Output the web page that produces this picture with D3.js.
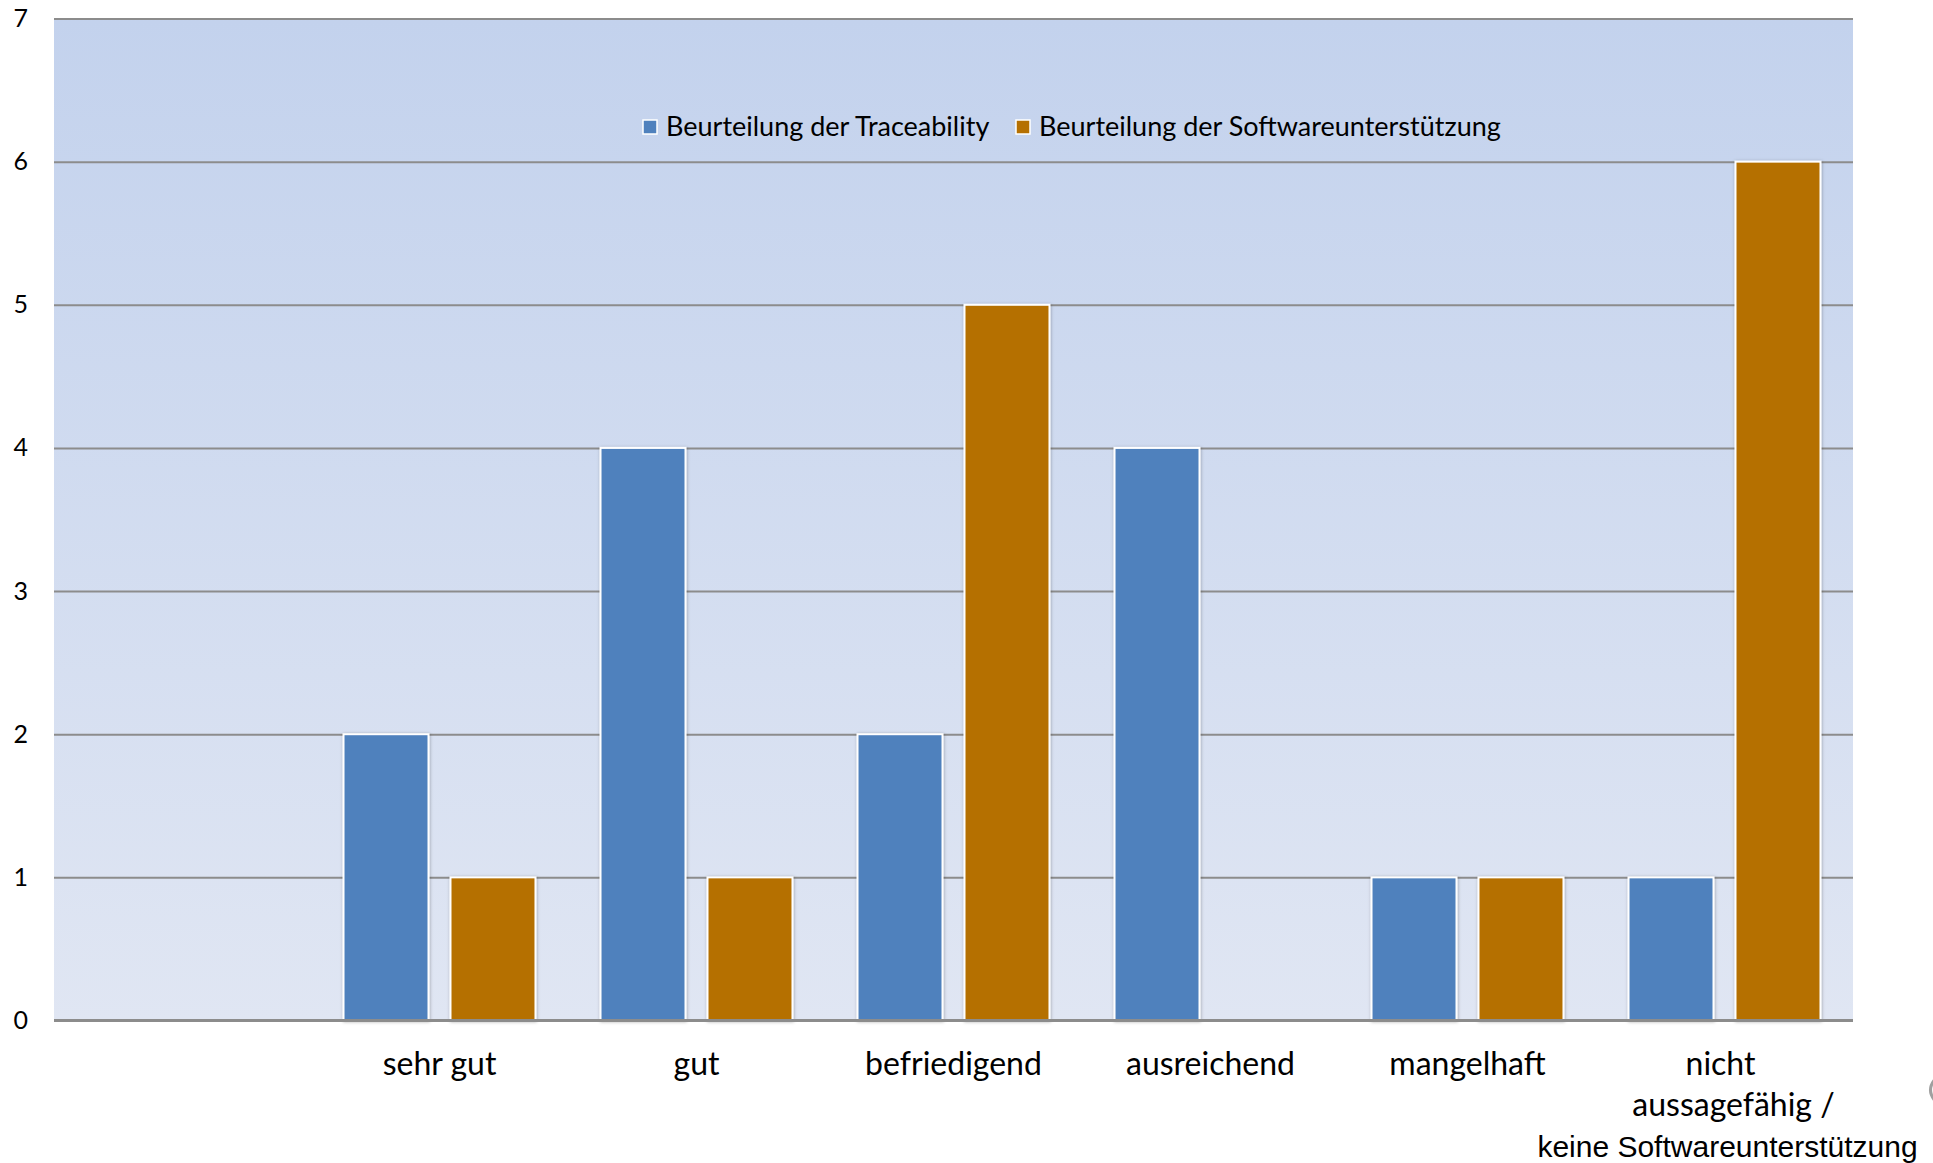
<!DOCTYPE html>
<html>
<head>
<meta charset="utf-8">
<script src="https://cdnjs.cloudflare.com/ajax/libs/d3/7.8.5/d3.min.js"></script>
<style>
	body { margin: 0; background: #ffffff; }
	#container { width: 1933px; height: 1163px; overflow: hidden; }
	.grid line { stroke: #8c8c8c; stroke-width: 2px; }
	.grid path { display: none; }
	.y.axis path, .y.axis line { display: none; }
	.y.axis text { font-family: Lato, "Open Sans", sans-serif; font-size: 25px; fill: #000; }
	.xlabel { font-family: Lato, "Open Sans", sans-serif; font-size: 32px; fill: #000; }
	.legend text { font-family: Lato, "Open Sans", sans-serif; font-size: 27px; fill: #000; }
</style>
</head>
<body>
<div id="container"></div>
<script>
// data
var categories = ["", "sehr gut", "gut", "befriedigend", "ausreichend", "mangelhaft", "nicht aussagefähig / keine Softwareunterstützung"];
var traceability = [0, 2, 4, 2, 4, 1, 1];
var software = [0, 1, 1, 5, 0, 1, 6];
var seriesNames = ["Beurteilung der Traceability", "Beurteilung der Softwareunterstützung"];
var yTicks = [0, 1, 2, 3, 4, 5, 6, 7];
// x tick labels, one entry per line
var xLabelLines = [[""], ["sehr gut"], ["gut"], ["befriedigend"], ["ausreichend"], ["mangelhaft"],
	["nicht", "aussagefähig  /", "keine Softwareunterstützung"]];

var colors = ["#4f81bd", "#b57001"];

const W = 1933, H = 1163;
var margin = {top: 18.5, right: 80, bottom: 142.5, left: 54};
var width = W - margin.left - margin.right;
var height = H - margin.top - margin.bottom;

var svg = d3.select("#container").append("svg")
	.attr("width", W)
	.attr("height", H);

var defs = svg.append("defs");

var grad = defs.append("linearGradient")
	.attr("id", "bg")
	.attr("x1", 0).attr("y1", 0)
	.attr("x2", 0).attr("y2", 1);
grad.append("stop").attr("offset", "0%").attr("stop-color", "#c3d2ed");
grad.append("stop").attr("offset", "100%").attr("stop-color", "#e0e6f3");

var shadow = defs.append("filter")
	.attr("id", "shadow")
	.attr("x", "-20%").attr("y", "-5%")
	.attr("width", "140%").attr("height", "110%");
shadow.append("feDropShadow")
	.attr("dx", 0.5).attr("dy", 0.5)
	.attr("stdDeviation", 1.5)
	.attr("flood-color", "#000")
	.attr("flood-opacity", 0.3);

var g = svg.append("g")
	.attr("transform", "translate(" + margin.left + "," + margin.top + ")");

// scales
var x = d3.scaleBand()
	.domain(categories)
	.range([0, width]);

var xSub = d3.scaleBand()
	.domain([0, 1])
	.range([0, x.bandwidth()])
	.paddingInner(0.2056)
	.paddingOuter(0.304);

var y = d3.scaleLinear()
	.domain([0, 7])
	.range([height, 0]);

// plot background
g.append("rect")
	.attr("width", width)
	.attr("height", height)
	.attr("fill", "url(#bg)");

// gridlines
g.append("g")
	.attr("class", "grid")
	.call(d3.axisLeft(y).tickValues(yTicks).tickSize(-width).tickFormat(""));

// y axis labels
g.append("g")
	.attr("class", "y axis")
	.call(d3.axisLeft(y).tickValues(yTicks).tickSize(0).tickPadding(26).tickFormat(d3.format("d")));

// bars
var series = [traceability, software];
series.forEach(function(vals, s) {
	g.append("g")
		.selectAll("rect")
		.data(categories.map((c, i) => ({cat: c, v: vals[i]})).filter(d => d.v > 0))
		.enter().append("rect")
		.attr("x", d => x(d.cat) + xSub(s))
		.attr("y", d => y(d.v))
		.attr("width", xSub.bandwidth())
		.attr("height", d => height - y(d.v))
		.attr("fill", colors[s])
		.attr("stroke", "#ffffff")
		.attr("stroke-width", 2)
		.attr("filter", "url(#shadow)");
});

// baseline
g.append("line")
	.attr("x1", 0).attr("x2", width)
	.attr("y1", height).attr("y2", height)
	.attr("stroke", "#8c8c8c")
	.attr("stroke-width", 3);

// x labels
var xl = g.append("g").attr("class", "x labels");
categories.forEach(function(c, i) {
	var lines = xLabelLines[i];
	var cx = x(c) + x.bandwidth() / 2;
	var multi = lines.length > 1;
	var t = xl.append("text")
		.attr("class", "xlabel")
		.attr("text-anchor", "middle")
		.attr("x", cx)
		.attr("y", height + 54);
	lines.forEach(function(l, j) {
		// the wrapped label sits a little off centre in the original
		var off = !multi ? 0 : (j == 0 ? -4 : (j == 1 ? 9 : 3));
		t.append("tspan")
			.attr("x", cx + off)
			.attr("y", height + 54 + j * 41)
			.style("font-family", j == 2 ? "'Liberation Sans', Arial, sans-serif" : null)
			.style("font-size", j == 2 ? "30px" : null)
			.text(l);
	});
});

// legend
var legend = g.append("g")
	.attr("class", "legend")
	.attr("transform", "translate(589," + (127 - margin.top) + ")");

var lx = [0, 373];
seriesNames.forEach(function(name, i) {
	legend.append("rect")
		.attr("x", lx[i])
		.attr("y", -7)
		.attr("width", 14)
		.attr("height", 14)
		.attr("fill", colors[i])
		.attr("stroke", "#ffffff")
		.attr("stroke-width", 1.5);
	legend.append("text")
		.attr("x", lx[i] + 23)
		.attr("y", 0)
		.attr("dy", "0.35em")
		.text(name);
});

// clipped grey arc at the right edge
svg.append("path")
	.attr("d", "M1936,1078 Q1925,1090 1936,1102")
	.attr("fill", "none")
	.attr("stroke", "#a0a0a0")
	.attr("stroke-width", 3);
</script>
</body>
</html>
